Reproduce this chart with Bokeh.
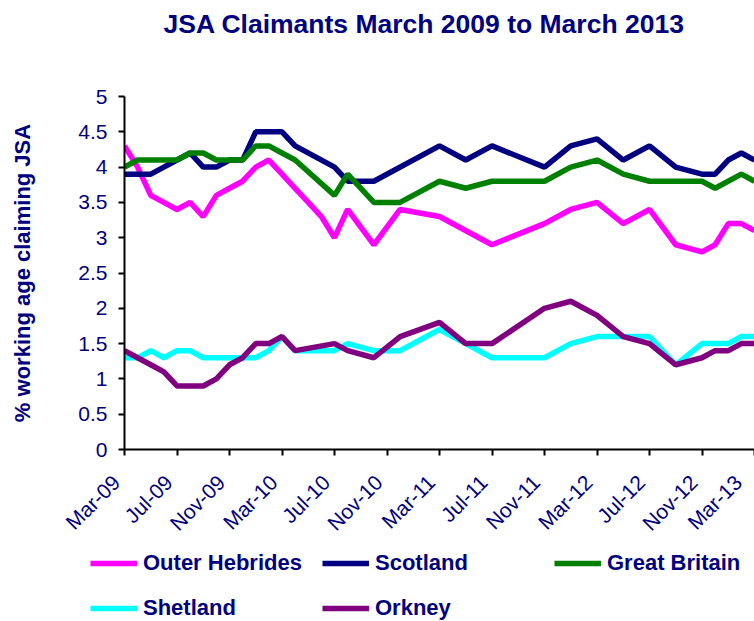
import math
from bokeh.plotting import figure
from bokeh.layouts import column
from bokeh.models import (Range1d, FixedTicker, NumeralTickFormatter, Legend,
                          LegendItem, Title)
from bokeh.embed import file_html
from bokeh.resources import INLINE

# ---- data (month index 0 = Mar-09 ... 48 = Mar-13) ----
x_tick_months = [0, 4, 8, 12, 16, 20, 24, 28, 32, 36, 40, 44, 48]
x_tick_labels = ["Mar-09", "Jul-09", "Nov-09", "Mar-10", "Jul-10", "Nov-10",
                 "Mar-11", "Jul-11", "Nov-11", "Mar-12", "Jul-12", "Nov-12",
                 "Mar-13"]
y_ticks = [0, 0.5, 1, 1.5, 2, 2.5, 3, 3.5, 4, 4.5, 5]

hebrides_m = [0, 1, 2, 3, 4, 5, 6, 7, 8, 9, 10, 11, 12, 13, 14, 15, 16, 17, 19,
              21, 24, 28, 32, 34, 36, 38, 40, 42, 44, 45, 46, 47, 48]
hebrides_v = [4.3, 4.0, 3.6, 3.5, 3.4, 3.5, 3.3, 3.6, 3.7, 3.8, 4.0, 4.1, 3.9,
              3.7, 3.5, 3.3, 3.0, 3.4, 2.9, 3.4, 3.3, 2.9, 3.2, 3.4, 3.5, 3.2,
              3.4, 2.9, 2.8, 2.9, 3.2, 3.2, 3.1]

scotland_m = [0, 2, 3, 4, 5, 6, 7, 8, 9, 10, 12, 13, 16, 17, 19, 24, 26, 28,
              32, 34, 36, 38, 40, 42, 44, 45, 46, 47, 48]
scotland_v = [3.9, 3.9, 4.0, 4.1, 4.2, 4.0, 4.0, 4.1, 4.1, 4.5, 4.5, 4.3, 4.0,
              3.8, 3.8, 4.3, 4.1, 4.3, 4.0, 4.3, 4.4, 4.1, 4.3, 4.0, 3.9, 3.9,
              4.1, 4.2, 4.1]

gb_m = [0, 1, 4, 5, 6, 7, 9, 10, 11, 12, 13, 16, 17, 19, 21, 24, 26, 28, 32,
        34, 36, 38, 40, 44, 45, 47, 48]
gb_v = [4.0, 4.1, 4.1, 4.2, 4.2, 4.1, 4.1, 4.3, 4.3, 4.2, 4.1, 3.6, 3.9, 3.5,
        3.5, 3.8, 3.7, 3.8, 3.8, 4.0, 4.1, 3.9, 3.8, 3.8, 3.7, 3.9, 3.8]

shetland_m = [0, 1, 2, 3, 4, 5, 6, 10, 11, 12, 13, 16, 17, 19, 21, 24, 26, 28,
              32, 34, 36, 40, 42, 44, 46, 47, 48]
shetland_v = [1.3, 1.3, 1.4, 1.3, 1.4, 1.4, 1.3, 1.3, 1.4, 1.6, 1.4, 1.4, 1.5,
              1.4, 1.4, 1.7, 1.5, 1.3, 1.3, 1.5, 1.6, 1.6, 1.2, 1.5, 1.5, 1.6,
              1.6]

orkney_m = [0, 1, 2, 3, 4, 6, 7, 8, 9, 10, 11, 12, 13, 16, 17, 19, 21, 24, 26,
            28, 32, 34, 36, 38, 40, 42, 44, 45, 46, 47, 48]
orkney_v = [1.4, 1.3, 1.2, 1.1, 0.9, 0.9, 1.0, 1.2, 1.3, 1.5, 1.5, 1.6, 1.4,
            1.5, 1.4, 1.3, 1.6, 1.8, 1.5, 1.5, 2.0, 2.1, 1.9, 1.6, 1.5, 1.2,
            1.3, 1.4, 1.4, 1.5, 1.5]

series_names = ["Outer Hebrides", "Scotland", "Great Britain", "Shetland", "Orkney"]
series_months = [hebrides_m, scotland_m, gb_m, shetland_m, orkney_m]
series_values = [hebrides_v, scotland_v, gb_v, shetland_v, orkney_v]
series_colors = ["#FF00FF", "#000080", "#008000", "#00FFFF", "#800080"]

NAVY = "#000080"
FONT = "Liberation Sans"
W = 754
H_MAIN = 546
H_LEG = 621 - H_MAIN

p = figure(width=W, height=H_MAIN, output_backend="svg", toolbar_location=None,
           x_range=Range1d(0, 48), y_range=Range1d(0, 5),
           min_border_left=124, min_border_right=0, min_border_top=96,
           min_border_bottom=H_MAIN - 449)
p.outline_line_color = None
p.xgrid.visible = False
p.ygrid.visible = False

# spacer keeps the title up at the top of the page, well clear of the plot
p.add_layout(Title(text="\u00a0", text_font_size="37px"), "above")
p.add_layout(Title(text="JSA Claimants March 2009 to March 2013", align="left",
                   offset=39, text_font=FONT, text_font_size="26.5px",
                   text_font_style="bold", text_color=NAVY), "above")

for m, v, c in zip(series_months, series_values, series_colors):
    p.line(m, v, line_color=c, line_width=5.5)

for ax in (p.xaxis[0], p.yaxis[0]):
    ax.axis_line_color = "black"
    ax.axis_line_width = 2
    ax.major_tick_line_color = "black"
    ax.major_tick_line_width = 2
    ax.major_tick_out = 6
    ax.major_tick_in = 0
    ax.minor_tick_line_color = None
    ax.major_label_text_font = FONT
    ax.major_label_text_font_size = "21px"
    ax.major_label_text_color = NAVY

p.yaxis.ticker = FixedTicker(ticks=y_ticks)
p.yaxis.formatter = NumeralTickFormatter(format="0.[0]")
p.yaxis.major_label_standoff = 11
p.yaxis.axis_label = "% working age claiming JSA"
p.yaxis.axis_label_text_font = FONT
p.yaxis.axis_label_text_font_size = "22px"
p.yaxis.axis_label_text_font_style = "bold"
p.yaxis.axis_label_text_color = NAVY
p.yaxis.axis_label_standoff = 40

p.xaxis.ticker = FixedTicker(ticks=x_tick_months)
# trailing no-break spaces pull each slanted label back from its tick,
# the way the original spreadsheet chart sets them
pad = "\u00a0\u00a0"
p.xaxis.major_label_overrides = {m: lab + pad for m, lab in zip(x_tick_months, x_tick_labels)}
p.xaxis.major_label_orientation = math.pi / 4
p.xaxis.major_label_standoff = 15

# ---- legend strip below the chart (its own small canvas) ----
lg_fig = figure(frame_width=W, frame_height=H_LEG, output_backend="svg",
                toolbar_location=None, x_axis_location=None,
                y_axis_location=None, min_border=0, min_border_left=0,
                min_border_right=0, min_border_top=0, min_border_bottom=0,
                x_range=Range1d(1000, 1001), y_range=Range1d(1000, 1001))
if "frame_align" in lg_fig.properties():
    lg_fig.frame_align = False
lg_fig.outline_line_color = None
lg_fig.xgrid.visible = False
lg_fig.ygrid.visible = False

# the same series again, out of this canvas's view: only their legend keys show
keys = [lg_fig.line(m, v, line_color=c, line_width=5.5)
        for m, v, c in zip(series_months, series_values, series_colors)]
items = [LegendItem(label=n, renderers=[r]) for n, r in zip(series_names, keys)]

common = dict(orientation="horizontal", glyph_width=47, glyph_height=22,
              label_height=22, label_width=165, label_standoff=6, spacing=14,
              padding=0, margin=0, border_line_color=None,
              background_fill_alpha=0, label_text_font=FONT,
              label_text_font_size="22px", label_text_font_style="bold",
              label_text_color=NAVY, label_text_baseline="middle")
row1 = Legend(items=items[:3], location=(90, H_LEG - 29.5), **common)
row2 = Legend(items=items[3:], location=(90, H_LEG - 74.5), **common)
lg_fig.add_layout(row1, "center")
lg_fig.add_layout(row2, "center")

layout = column(p, lg_fig, spacing=0)
open("out.html", "w").write(file_html(layout, INLINE))
